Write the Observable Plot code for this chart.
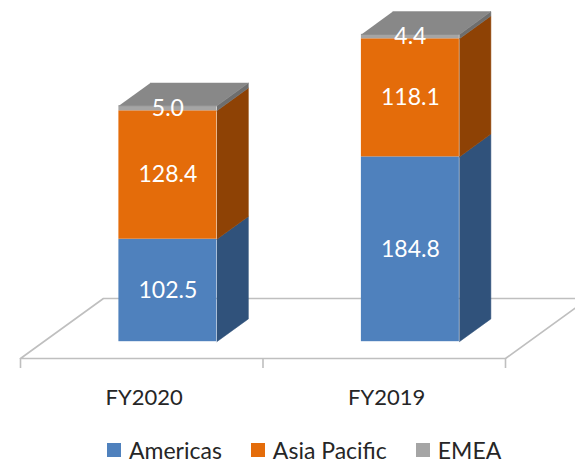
<!DOCTYPE html>
<html>
<head>
<meta charset="utf-8">
<script src="https://cdn.jsdelivr.net/npm/d3@7"></script>
<script src="https://cdn.jsdelivr.net/npm/@observablehq/plot@0.6"></script>
<style>
  body { margin: 0; background: #fff; font-family: Lato, "Open Sans", sans-serif; width: 575px; height: 464px; overflow: hidden; }
  #legend { display: flex; align-items: center; height: 54px; padding-left: 107px; box-sizing: border-box; padding-top: 26px; font-size: 23px; color: #262626; }
  .item { display: flex; align-items: center; margin-right: 29px; }
  .sw { width: 14px; height: 14px; margin-right: 8px; }
</style>
</head>
<body>
<div id="chart"></div>
<div id="legend"></div>
<script>
// ---- data ----
const categories = ["FY2020", "FY2019"];
const seriesNames = ["Americas", "Asia Pacific", "EMEA"];
const americas = [102.5, 184.8];
const asiaPacific = [128.4, 118.1];
const emea = [5.0, 4.4];
const valueLabels = [["102.5", "128.4", "5.0"], ["184.8", "118.1", "4.4"]];

// ---- styles ----
const frontColors = ["#4F81BD", "#E46C0A", "#A5A5A5"];
const sideColors = ["#30527B", "#8E4205", "#6E6E6E"];
const topColors = ["#3E6A9E", "#B35508", "#888888"];

// ---- layout constants (in scale units) ----
const depthX = 0.342, depthY = 60;   // full floor depth vector
const f0 = 0.28, f1 = 0.66;          // bar front/back depth fractions
const barLeft = 0.31, barW = 0.404;  // bar position within band
const P = (x, v, f) => ({x: x + f * depthX, y: v + (f - f0) * depthY});

const seriesValues = [americas, asiaPacific, emea];
const fronts = [], polys = [], labels = [];
let pid = 0;
categories.forEach((cat, i) => {
  const xl = i + barLeft, xr = xl + barW;
  let lo = 0;
  seriesValues.forEach((vals, s) => {
    const hi = lo + vals[i];
    fronts.push({x1: xl + f0 * depthX, x2: xr + f0 * depthX, y1: lo, y2: hi, fill: frontColors[s]});
    const side = [P(xr, lo, f0), P(xr, lo, f1), P(xr, hi, f1), P(xr, hi, f0)];
    polys.push({id: pid++, fill: sideColors[s], pts: side});
    labels.push({x: (xl + xr) / 2 + f0 * depthX, y: (lo + hi) / 2, text: valueLabels[i][s]});
    lo = hi;
  });
  const top = [P(xl, lo, f0), P(xr, lo, f0), P(xr, lo, f1), P(xl, lo, f1)];
  polys.push({id: pid++, fill: topColors[seriesValues.length - 1], pts: top});
});

const floor = [P(0, 0, 0), P(2, 0, 0), P(2, 0, 1), P(0, 0, 1), P(0, 0, 0)];
const floorY = P(0, 0, 0).y;

const marks = [
  Plot.line(floor, {x: "x", y: "y", stroke: "#BFBFBF", strokeWidth: 1.6}),
  Plot.axisX({ticks: [0, 1, 2], tickSize: 10, tickFormat: () => "", stroke: "#BFBFBF", strokeWidth: 1.6}),
  Plot.rect(fronts, {x1: "x1", x2: "x2", y1: "y1", y2: "y2", fill: d => d.fill, inset: 0})
];
polys.forEach(p => {
  marks.push(Plot.line(p.pts, {x: "x", y: "y", fill: p.fill, stroke: p.fill, strokeWidth: 0.5}));
});
marks.push(Plot.text(labels, {x: "x", y: "y", text: "text", fill: "white", fontSize: 23, fontFamily: "Lato"}));
marks.push(Plot.text(categories, {x: (d, i) => i + 0.51, y: () => floorY, text: d => d, dy: 39, fontSize: 22, fill: "#262626", fontFamily: "Lato"}));

const chart = Plot.plot({
  width: 575,
  height: 410,
  marginTop: 0, marginBottom: 52, marginLeft: 0, marginRight: 0,
  x: {domain: [-20 / 242.5, 555 / 242.5], axis: null},
  y: {domain: [floorY, floorY + 358], axis: null},
  style: {background: "white", overflow: "visible"},
  marks
});
document.getElementById("chart").appendChild(chart);

const legend = document.getElementById("legend");
seriesNames.forEach((n, s) => {
  const it = document.createElement("div");
  it.className = "item";
  it.innerHTML = `<div class="sw" style="background:${frontColors[s]}"></div><span>${n}</span>`;
  legend.appendChild(it);
});
</script>
</body>
</html>
